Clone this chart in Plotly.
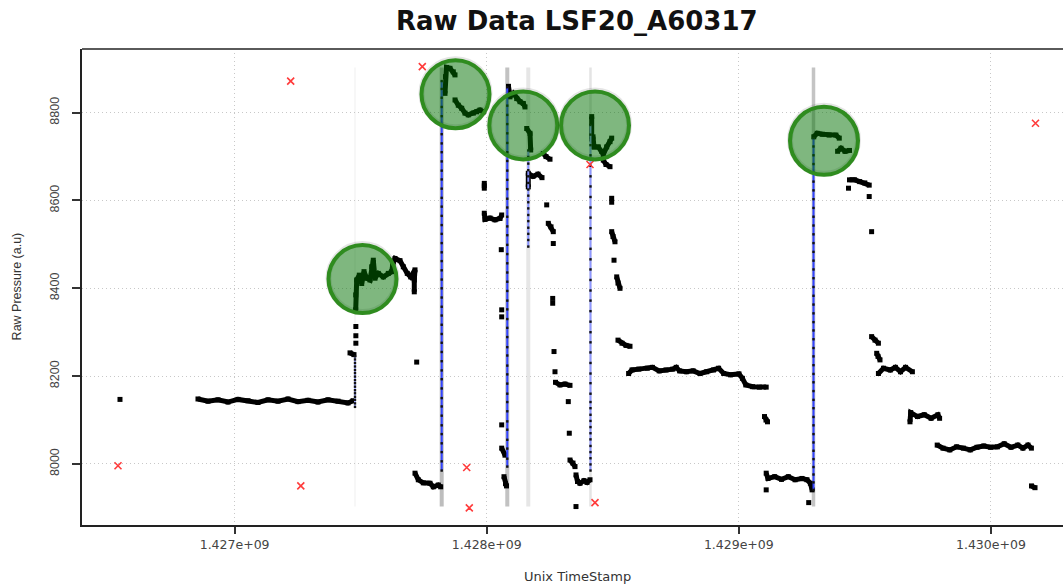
import plotly.graph_objects as go

# ---------------------------------------------------------------------------
# Raw pressure log of sensor LSF20_A60317 (Unix seconds, raw a.u.).
# None separates individual recording runs.
# ---------------------------------------------------------------------------
stamp = [
    1426545400, None,
    1426854800, 1426894500, 1426934200, 1426973800, 1427013500, 1427053200,
    1427092800, 1427132500, 1427172200, 1427211800, 1427251500, 1427291200,
    1427330800, 1427370500, 1427410200, 1427449800, 1427469700, None,
    1427457800, 1427473600, None,
    1427481000, None, 1427481000, None, 1427481000, None,
    1427480400, 1427480400, 1427484300, 1427494600, 1427504200, 1427513300,
    1427524000, 1427537100, 1427543800, 1427550200, 1427556900, 1427570000,
    1427589800, 1427609700, 1427623200, 1427627100, 1427636300, 1427656100,
    1427669200, 1427685000, 1427698500, 1427715600, 1427712800, 1427712800, None,
    1427722300, None,
    1427715600, 1427728700, 1427748500, 1427775100, 1427788200, 1427808000,
    1427817500, None,
    1427834600, 1427836600, 1427840500, 1427854400, 1427867500, 1427874300, None,
    1427874300, 1427887300, 1427900800, 1427913900, 1427927000, 1427946800,
    1427960300, 1427973400, 1427986500, None,
    1427990500, 1427990500, None,
    1427990500, 1427993300, 1428013100, 1428032900, 1428052800, 1428059500, None,
    1428057900, None,
    1428059500, None, 1428059500, None, 1428059500, None,
    1428059500, 1428072600, None,
    1428068600, 1428074600, 1428078500, None,
    1428086500, 1428092400, 1428105500, 1428119000, 1428132100, 1428145200,
    1428151900, None,
    1428158700, 1428171800, 1428174500, None,
    1428165000, 1428165000, 1428183700, 1428203500, 1428219400, None,
    1428224500, 1428235200, 1428251100, None,
    1428238000, None,
    1428244300, 1428255100, 1428264200, None,
    1428264200, None,
    1428261800, None, 1428261800, None,
    1428267000, None,
    1428270900, None,
    1428272900, 1428290800, 1428310600, 1428330400, None,
    1428323700, None,
    1428327600, None,
    1428330400, 1428342300, 1428350300, None,
    1428354200, 1428360200, 1428370100, 1428386000, 1428397900, 1428409800, None,
    1428354200, None,
    1428416500, 1428416500, 1428421700, 1428425600, 1428442700, 1428456200,
    1428462500, 1428476000, 1428489100, 1428495800, None,
    1428462500, 1428473200, 1428489100, None,
    1428495800, None, 1428495800, None,
    1428495800, 1428501000, 1428508900, None,
    1428505000, None,
    1428515700, 1428520800, 1428528800, None,
    1428520800, 1428536700, 1428552600, 1428568400, None,
    1428562900, 1428576400, 1428603300, 1428637000, 1428657300, 1428684300,
    1428711200, 1428738200, 1428751700, 1428765200, 1428792100, 1428819100,
    1428846100, 1428872700, 1428899600, 1428919900, 1428940100, 1428967100,
    1429000800, 1429014300, 1429027800, 1429054700, 1429081700, 1429108700, None,
    1429101900, 1429107900, 1429113800, None,
    1429108700, None,
    1429108700, 1429115800, 1429142400, 1429169400, 1429196400, 1429223300,
    1429250700, 1429270500, 1429284000, 1429290800, None,
    1429277300, None,
    1429297500, 1429311000, 1429331200, 1429358200, 1429385200, 1429398600, None,
    1429391900, 1429405400, 1429421300, 1429439100, None,
    1429435200, None,
    1429439100, 1429459300, 1429479600, 1429499800, 1429517300, None,
    1429517300, None,
    1429526800, None,
    1429526800, 1429540300, 1429553800, None,
    1429547000, 1429552200, 1429560100, None,
    1429553800, 1429574000, 1429601000, 1429621200, 1429641400, 1429661600,
    1429688600, None,
    1429679100, 1429681900, 1429708800, 1429735800, 1429762800, 1429789800,
    1429796500, None,
    1429787000, 1429810000, 1429837000, 1429864000, 1429890900, 1429917900,
    1429944900, 1429971800, 1429998800, 1430025800, 1430052800, 1430079700,
    1430106700, 1430127000, 1430147200, 1430160700, None,
    1430161100, 1430175000,
]

pressure = [
    8147, None,
    8148, 8143, 8146, 8141, 8147, 8144,
    8140, 8146, 8143, 8148, 8142, 8145,
    8141, 8146, 8143, 8139, 8144, None,
    8253, 8249, None,
    8275, None, 8292, None, 8313, None,
    8351, 8385, 8419, 8430, 8411, 8438,
    8423, 8419, 8449, 8464, 8423, 8434,
    8426, 8434, 8438, 8453, 8468, 8463,
    8449, 8434, 8426, 8442, 8419, 8392, None,
    8232, None,
    7979, 7964, 7957, 7956, 7948, 7952,
    7948, None,
    8844, 8882, 8903, 8901, 8893, 8886, None,
    8829, 8817, 8810, 8799, 8795, 8799,
    8802, 8806, 8802, None,
    8639, 8628, None,
    8571, 8557, 8560, 8556, 8559, 8567, None,
    8488, None,
    8351, None, 8335, None, 8089, None,
    8036, 8020, None,
    7971, 7955, 7950, None,
    8860, 8836, 8844, 8832, 8825, 8821,
    8813, None,
    8764, 8753, 8715, None,
    8631, 8662, 8655, 8660, 8652, None,
    8707, 8700, 8694, None,
    8590, None,
    8548, 8540, 8529, None,
    8502, None,
    8377, None, 8366, None,
    8256, None,
    8210, None,
    8186, 8180, 8182, 8179, None,
    8142, None,
    8070, None,
    8009, 8002, 7994, None,
    7975, 7960, 7956, 7962, 7958, 7964, None,
    7903, None,
    8791, 8740, 8745, 8722, 8722, 8712,
    8705, 8722, 8734, 8742, None,
    8692, 8682, 8677, None,
    8605, None, 8596, None,
    8529, 8518, 8506, None,
    8464, None,
    8426, 8412, 8400, None,
    8282, 8275, 8270, 8268, None,
    8206, 8214, 8216, 8218, 8220, 8212,
    8214, 8216, 8220, 8212, 8210, 8212,
    8206, 8210, 8214, 8218, 8206, 8203,
    8205, 8195, 8180, 8176, 8175, 8175, None,
    8108, 8100, 8096, None,
    7941, None,
    7979, 7967, 7971, 7965, 7971, 7964,
    7967, 7964, 7956, 7941, None,
    7912, None,
    8745, 8753, 8751, 8749, 8749, 8742, None,
    8712, 8719, 8712, 8714, None,
    8628, None,
    8647, 8647, 8643, 8640, 8635, None,
    8609, None,
    8529, None,
    8290, 8282, 8275, None,
    8252, 8245, 8237, None,
    8206, 8218, 8214, 8220, 8210, 8220,
    8210, None,
    8096, 8117, 8108, 8112, 8104, 8112,
    8104, None,
    8043, 8036, 8032, 8039, 8036, 8032,
    8038, 8041, 8038, 8039, 8046, 8038,
    8043, 8036, 8043, 8036, None,
    7950, 7946,
]

# Fast-sampled pressure rises (one timestamp per burst)
rise_stamp = [1427477600, 1427821500, 1428081700, 1428165000, 1428411700, 1429296300]
rise_1 = [8130, 8138, 8146, 8153, 8161, 8168, 8176, 8184, 8191, 8199, 8207, 8214,
          8222, 8230, 8238, 8245]
rise_2 = [7985, 8006, 8027, 8047, 8068, 8088, 8110, 8131, 8150, 8172, 8193, 8213,
          8234, 8255, 8276, 8296, 8317, 8338, 8358, 8379, 8400, 8420, 8441, 8462,
          8482, 8503, 8524, 8544, 8565, 8586, 8606, 8627, 8648, 8668, 8689, 8710,
          8730, 8751, 8772, 8792, 8813, 8834, 8854, 8872]
rise_3 = [7994, 8012, 8035, 8055, 8078, 8097, 8120, 8141, 8160, 8183, 8204, 8224,
          8247, 8266, 8289, 8310, 8330, 8352, 8372, 8394, 8415, 8436, 8457, 8478,
          8499, 8521, 8541, 8563, 8584, 8604, 8626, 8647, 8668, 8690, 8710, 8731,
          8753, 8774, 8795, 8816, 8838, 8858]
rise_4 = [8495, 8510, 8524, 8538, 8553, 8567, 8582, 8596, 8611, 8625, 8640, 8655,
          8669, 8684, 8699, 8714]
rise_5 = [7985, 7999, 8013, 8027, 8041, 8056, 8070, 8084, 8098, 8112, 8127, 8141,
          8160, 8184, 8206, 8230, 8254, 8277, 8300, 8324, 8348, 8372, 8395, 8419,
          8443, 8466, 8490, 8513, 8537, 8561, 8584, 8608, 8632, 8655, 8679, 8703,
          8726, 8750, 8772]
rise_6 = [7941, 7958, 7976, 7993, 8011, 8030, 8049, 8068, 8088, 8107, 8127, 8146,
          8166, 8186, 8205, 8225, 8245, 8264, 8284, 8304, 8323, 8343, 8363, 8383,
          8403, 8423, 8443, 8463, 8483, 8503, 8523, 8543, 8563, 8583, 8603, 8623,
          8643, 8663, 8683, 8703, 8723, 8742]
rise_levels = [rise_1, rise_2, rise_3, rise_4, rise_5, rise_6]

# Rejected readings
outlier_stamp = [1426537500, 1427222500, 1427262600, 1427744500, 1427920700,
                 1427931000, 1428409800, 1428429600, 1430176900]
outlier_pressure = [7996, 8872, 7950, 8905, 7992, 7900, 8682, 7912, 8776]

# Plateaus flagged after each rise
highlight_stamp = [1427507300, 1427876200, 1428145200, 1428429600, 1429338000]
highlight_pressure = [8421, 8842, 8771, 8771, 8736]

x_ticks = [1427000000, 1428000000, 1429000000, 1430000000]
x_tick_text = ["1.427e+09", "1.428e+09", "1.429e+09", "1.430e+09"]
y_ticks = [8000, 8200, 8400, 8600, 8800]

# ---------------------------------------------------------------------------
# styling
# ---------------------------------------------------------------------------
rise_guide_color = ["#f4f4f4", "#bdbdbd", "#c2c2c2", "#e6e6e6", "#e4e4e4", "#c4c4c4"]
rise_guide_width = [1.5, 4, 4, 4, 2.5, 3.5]
rise_line_color = ["#a3abff", "#3344ff", "#3344ff", "#8590ff", "#8f98ff", "#3344ff"]

valid = [p for p in pressure if p is not None]
for lv in rise_levels:
    valid += lv
p_low, p_high = min(valid), max(valid)

fig = go.Figure()

# grey guides marking every detected rise, spanning the reading range
for i, t in enumerate(rise_stamp):
    fig.add_shape(type="line", xref="x", yref="y", x0=t, x1=t, y0=p_low, y1=p_high,
                  line=dict(color=rise_guide_color[i], width=rise_guide_width[i]),
                  layer="below")

# logged samples
fig.add_trace(go.Scatter(
    x=stamp, y=pressure, mode="lines+markers", connectgaps=False,
    line=dict(color="black", width=5),
    marker=dict(color="black", size=5, symbol="square"),
    hoverinfo="skip", showlegend=False,
))

# fast-sampled rises
for i, t in enumerate(rise_stamp):
    lv = rise_levels[i]
    fig.add_trace(go.Scatter(
        x=[t] * len(lv), y=lv, mode="lines+markers",
        line=dict(color=rise_line_color[i], width=2),
        marker=dict(color="#111", size=2.4, symbol="square"),
        hoverinfo="skip", showlegend=False,
    ))

# rejected readings
fig.add_trace(go.Scatter(
    x=outlier_stamp, y=outlier_pressure, mode="markers",
    marker=dict(symbol="x-thin-open", size=7, color="#ff3b3b",
                line=dict(color="#ff3b3b", width=1.6)),
    hoverinfo="skip", showlegend=False,
))

# highlighted plateaus
for t, p in zip(highlight_stamp, highlight_pressure):
    fig.add_shape(type="circle", xref="x", yref="y",
                  xsizemode="pixel", ysizemode="pixel", xanchor=t, yanchor=p,
                  x0=-34, x1=34, y0=-33, y1=35,
                  line=dict(color="rgba(0,0,0,0.10)", width=6),
                  fillcolor="rgba(0,0,0,0)", layer="above")
    fig.add_shape(type="circle", xref="x", yref="y",
                  xsizemode="pixel", ysizemode="pixel", xanchor=t, yanchor=p,
                  x0=-34, x1=34, y0=-34, y1=34,
                  line=dict(color="#2f8c1f", width=4),
                  fillcolor="rgba(0,112,0,0.5)", layer="above")

# top frame line
fig.add_shape(type="line", xref="paper", yref="paper", x0=0, x1=1, y0=1, y1=1,
              line=dict(color="#5a5a5a", width=2))

fig.update_layout(
    width=1063, height=586,
    margin=dict(l=82, r=0, t=49, b=61, autoexpand=False),
    paper_bgcolor="white", plot_bgcolor="white",
    showlegend=False,
    font=dict(family="Liberation Sans, Arial, sans-serif", color="#444"),
    annotations=[
        dict(text="<b>Raw Data LSF20_A60317</b>", xref="paper", yref="paper",
             x=0.5046, y=1.0588, xanchor="center", yanchor="middle", showarrow=False,
             font=dict(family="DejaVu Sans, sans-serif", size=26, color="#111")),
        dict(text="Unix TimeStamp", xref="paper", yref="paper",
             x=0.5046, y=-0.109, xanchor="center", yanchor="middle", showarrow=False,
             font=dict(family="DejaVu Sans, sans-serif", size=13, color="#333")),
        dict(text="Raw Pressure (a.u)", xref="paper", yref="paper", textangle=-90,
             x=-0.0664, y=0.501, xanchor="center", yanchor="middle", showarrow=False,
             font=dict(family="Liberation Sans, Arial, sans-serif", size=12.5, color="#333")),
    ],
)

fig.update_xaxes(
    range=[1426394700, 1430286000],
    tickvals=x_ticks, ticktext=x_tick_text,
    tickfont=dict(family="DejaVu Sans, sans-serif", size=12.5, color="#444"),
    ticks="outside", ticklen=7, tickwidth=1.5, tickcolor="#333",
    showline=True, linecolor="#222", linewidth=2,
    showgrid=True, gridcolor="#c8c8c8", griddash="1px,3px", gridwidth=1,
    zeroline=False,
)
fig.update_yaxes(
    range=[7861, 8945],
    tickvals=y_ticks,
    tickangle=-90,
    ticklabelstandoff=8,
    tickfont=dict(family="Liberation Sans, Arial, sans-serif", size=12.5, color="#444"),
    ticks="outside", ticklen=8, tickwidth=1.5, tickcolor="#333",
    showline=True, linecolor="#222", linewidth=2,
    showgrid=True, gridcolor="#c8c8c8", griddash="1px,3px", gridwidth=1,
    zeroline=False,
)

fig.write_html("out.html")
